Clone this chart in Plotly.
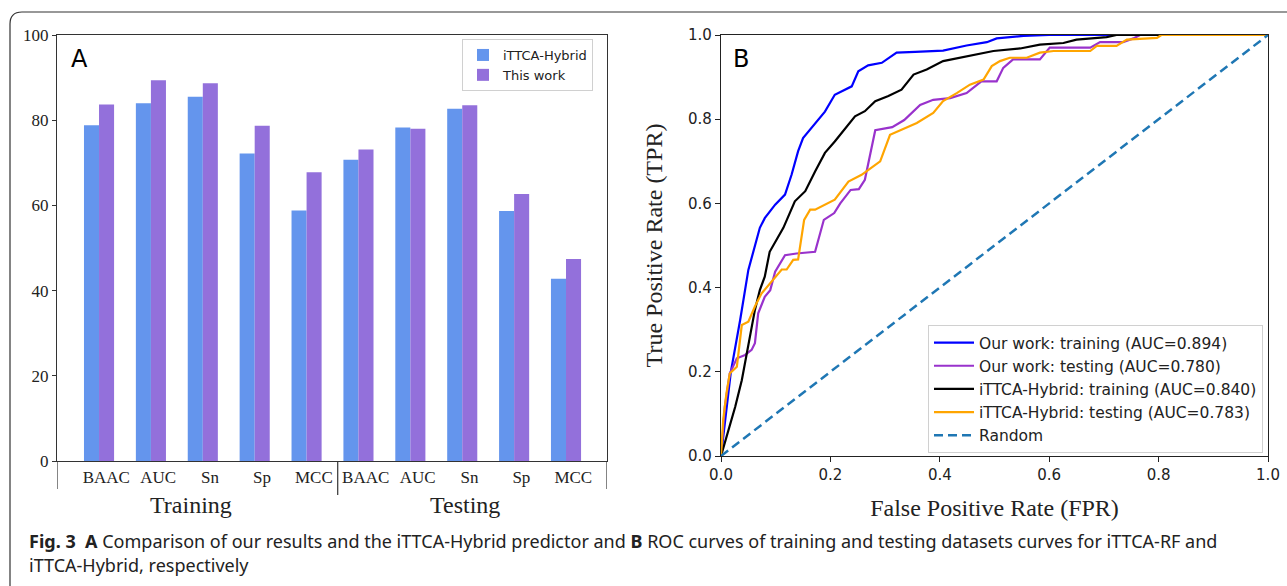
import plotly.graph_objects as go

W, H = 1287, 586

# ---------------- Panel A data ----------------
metrics = ["BAAC", "AUC", "Sn", "Sp", "MCC", "BAAC", "AUC", "Sn", "Sp", "MCC"]
groups = ["Training", "Testing"]
hybrid_vals = [78.8, 84.0, 85.5, 72.2, 58.8, 70.7, 78.3, 82.7, 58.7, 42.8]
thiswork_vals = [83.7, 89.4, 88.7, 78.7, 67.8, 73.1, 78.0, 83.5, 62.7, 47.4]
a_yticks = [0, 20, 40, 60, 80, 100]

# ---------------- Panel B data ----------------
ours_train_fpr = [0.0, 0.018, 0.035, 0.05, 0.071, 0.080, 0.099, 0.117, 0.129, 0.141, 0.150, 0.172,
                  0.190, 0.208, 0.221, 0.239, 0.251, 0.269, 0.294, 0.321, 0.355, 0.406, 0.449,
                  0.486, 0.504, 0.553, 0.60, 1.0]
ours_train_tpr = [0.0, 0.20, 0.323, 0.442, 0.542, 0.565, 0.597, 0.621, 0.668, 0.724, 0.755, 0.791,
                  0.818, 0.858, 0.866, 0.878, 0.914, 0.928, 0.934, 0.958, 0.960, 0.963, 0.975,
                  0.983, 0.992, 0.998, 1.0, 1.0]

ours_test_fpr = [0.0, 0.007, 0.016, 0.029, 0.044, 0.056, 0.062, 0.068, 0.080, 0.090, 0.099, 0.117,
                 0.138, 0.172, 0.188, 0.207, 0.218, 0.237, 0.252, 0.263, 0.282, 0.298, 0.313,
                 0.335, 0.364, 0.388, 0.419, 0.449, 0.476, 0.504, 0.516, 0.534, 0.583, 0.601,
                 0.675, 0.693, 0.735, 0.754, 0.766, 1.0]
ours_test_tpr = [0.0, 0.117, 0.196, 0.232, 0.240, 0.252, 0.268, 0.339, 0.378, 0.394, 0.438, 0.477,
                 0.481, 0.485, 0.561, 0.577, 0.600, 0.632, 0.634, 0.656, 0.774, 0.777, 0.781,
                 0.798, 0.834, 0.846, 0.850, 0.862, 0.890, 0.890, 0.922, 0.942, 0.942, 0.970,
                 0.970, 0.983, 0.983, 0.992, 1.0, 1.0]

hyb_train_fpr = [0.0, 0.026, 0.038, 0.05, 0.062, 0.071, 0.080, 0.089, 0.105, 0.114, 0.135, 0.154,
                 0.172, 0.190, 0.208, 0.227, 0.245, 0.263, 0.282, 0.306, 0.330, 0.352, 0.376,
                 0.406, 0.449, 0.498, 0.547, 0.583, 0.626, 0.650, 0.705, 0.723, 1.0]
hyb_train_tpr = [0.0, 0.117, 0.180, 0.260, 0.347, 0.394, 0.426, 0.485, 0.521, 0.542, 0.605, 0.629,
                 0.676, 0.720, 0.747, 0.779, 0.807, 0.819, 0.843, 0.855, 0.870, 0.906, 0.918,
                 0.938, 0.950, 0.962, 0.968, 0.977, 0.981, 0.989, 0.995, 1.0, 1.0]

hyb_test_fpr = [0.0, 0.004, 0.010, 0.016, 0.029, 0.038, 0.05, 0.062, 0.074, 0.093, 0.111, 0.120,
                0.132, 0.141, 0.152, 0.163, 0.172, 0.208, 0.233, 0.257, 0.282, 0.291, 0.309,
                0.330, 0.358, 0.388, 0.406, 0.431, 0.455, 0.480, 0.495, 0.510, 0.528, 0.559,
                0.583, 0.608, 0.675, 0.687, 0.723, 0.742, 0.797, 0.805, 1.0]
hyb_test_tpr = [0.0, 0.085, 0.149, 0.196, 0.212, 0.311, 0.319, 0.355, 0.386, 0.414, 0.443, 0.443,
                0.466, 0.467, 0.561, 0.585, 0.585, 0.609, 0.652, 0.668, 0.692, 0.700, 0.763,
                0.775, 0.791, 0.815, 0.843, 0.862, 0.882, 0.894, 0.926, 0.938, 0.946, 0.946,
                0.958, 0.962, 0.962, 0.974, 0.974, 0.989, 0.993, 1.0, 1.0]

random_xy = [0.0, 1.0]
b_ticks = [0.0, 0.2, 0.4, 0.6, 0.8, 1.0]

names = ["Our work: training (AUC=0.894)", "Our work: testing (AUC=0.780)",
         "iTTCA-Hybrid: training (AUC=0.840)", "iTTCA-Hybrid: testing (AUC=0.783)", "Random"]

# ---------------- geometry helpers ----------------
def px(x):
    return x / W

def py(y):
    return 1 - y / H

A_X0, A_X1, A_YT, A_YB = 57, 607, 35, 461
B_X0, B_X1, B_YT, B_YB = 721, 1268, 35, 456

SERIF = "Liberation Serif"
SANS = "DejaVu Sans"

fig = go.Figure()

xpos = list(range(len(metrics)))
bw = 0.29
fig.add_trace(go.Bar(x=xpos, y=hybrid_vals, name="iTTCA-Hybrid", marker_color="#6495ED",
                     marker_line_width=0, offset=-bw, width=bw, xaxis="x", yaxis="y",
                     legend="legend"))
fig.add_trace(go.Bar(x=xpos, y=thiswork_vals, name="This work", marker_color="#9370DB",
                     marker_line_width=0, offset=0, width=bw, xaxis="x", yaxis="y",
                     legend="legend"))

line_specs = [
    (ours_train_fpr, ours_train_tpr, "#0000FF"),
    (ours_test_fpr, ours_test_tpr, "#9932CC"),
    (hyb_train_fpr, hyb_train_tpr, "#000000"),
    (hyb_test_fpr, hyb_test_tpr, "#FFA500"),
]
for (fx, ty, col), nm in zip(line_specs, names[:4]):
    fig.add_trace(go.Scatter(x=fx, y=ty, mode="lines", name=nm,
                             line=dict(color=col, width=2.2),
                             xaxis="x2", yaxis="y2", legend="legend2"))
fig.add_trace(go.Scatter(x=random_xy, y=random_xy, mode="lines", name=names[4],
                         line=dict(color="#1f77b4", width=2.5, dash="9px,5px"),
                         xaxis="x2", yaxis="y2", legend="legend2"))

tick_shift = 0.14  # category labels sit slightly right of the bar-pair centre

fig.update_layout(
    width=W, height=H,
    margin=dict(l=0, r=0, t=0, b=0, autoexpand=False),
    paper_bgcolor="white", plot_bgcolor="white",
    barmode="overlay",
    showlegend=True,
    xaxis=dict(domain=[px(A_X0), px(A_X1)], range=[-0.81, 9.79], automargin=False,
               tickmode="array", tickvals=[p + tick_shift for p in xpos], ticktext=metrics,
               ticks="", showgrid=False, zeroline=False,
               showline=True, linecolor="#333333", linewidth=1.2, mirror=True,
               tickfont=dict(family=SERIF, size=17, color="#222222"), anchor="y"),
    yaxis=dict(domain=[py(A_YB), py(A_YT)], range=[0, 100], automargin=False,
               tickmode="array", tickvals=a_yticks,
               ticks="outside", ticklen=4, tickcolor="#333333",
               showgrid=False, zeroline=False,
               showline=True, linecolor="#333333", linewidth=1.2, mirror=True,
               tickfont=dict(family=SERIF, size=17, color="#222222"), anchor="x"),
    xaxis2=dict(domain=[px(B_X0), px(B_X1)], range=[0, 1], automargin=False,
                tickmode="array", tickvals=b_ticks, tickformat=".1f",
                ticks="outside", ticklen=5, tickcolor="#222222",
                showgrid=False, zeroline=False,
                showline=True, linecolor="#222222", linewidth=1.3, mirror=True,
                tickfont=dict(family=SANS, size=15, color="#222222"), anchor="y2",
                title=dict(text="False Positive Rate (FPR)", standoff=16,
                           font=dict(family=SERIF, size=24, color="#222222"))),
    yaxis2=dict(domain=[py(B_YB), py(B_YT)], range=[0, 1], automargin=False,
                tickmode="array", tickvals=b_ticks, tickformat=".1f",
                ticks="outside", ticklen=5, tickcolor="#222222",
                showgrid=False, zeroline=False,
                showline=True, linecolor="#222222", linewidth=1.3, mirror=True,
                tickfont=dict(family=SANS, size=15, color="#222222"), anchor="x2",
                title=dict(text="True Positive Rate (TPR)", standoff=18,
                           font=dict(family=SERIF, size=24, color="#222222"))),
    legend=dict(x=px(462), y=py(39), xanchor="left", yanchor="top",
                bgcolor="rgba(255,255,255,0.9)", bordercolor="#d0d0d0", borderwidth=1,
                font=dict(family=SANS, size=13, color="#222222"),
                tracegroupgap=0, itemwidth=30),
    legend2=dict(x=px(928), y=py(325), xanchor="left", yanchor="top",
                 bgcolor="rgba(255,255,255,0.9)", bordercolor="#d0d0d0", borderwidth=1,
                 font=dict(family=SANS, size=15.5, color="#222222"),
                 tracegroupgap=0, itemwidth=40),
)

def note(x, y, text, font, xref="paper", xanchor="center"):
    fig.add_annotation(x=x, y=y, xref=xref, yref="paper", text=text, showarrow=False,
                       xanchor=xanchor, yanchor="middle", align="left", font=font)

# panel letters
note(px(79), py(59), "A", dict(family=SANS, size=24, color="black"))
note(px(741), py(59), "B", dict(family=SANS, size=24, color="black"))

# group labels (Training / Testing) under each group of five metrics
group_label_x = [1.77, 7.05]
for g, xc in zip(groups, group_label_x):
    note(xc, py(505), g, dict(family=SERIF, size=24, color="#222222"), xref="x")

# group separators below the bar axis
for xs, ybot in [(-0.81, 489), (4.6, 495), (9.79, 489)]:
    fig.add_shape(type="line", xref="x", yref="paper", x0=xs, x1=xs,
                  y0=py(A_YB), y1=py(ybot), line=dict(color="#333333", width=1.2))

# caption
cap_font = dict(family="Noto Sans", size=18, color="#222222")
note(px(27), py(541),
     "<b>Fig. 3</b>  <b>A</b> Comparison of our results and the iTTCA-Hybrid predictor and "
     "<b>B</b> ROC curves of training and testing datasets curves for iTTCA-RF and",
     cap_font, xanchor="left")
note(px(27), py(565), "iTTCA-Hybrid, respectively", cap_font, xanchor="left")

# outer rounded frame (only top-left corner visible)
r = 12
x0, y0 = 10, 12
path = (f"M {px(x0)},{py(H + 5)} L {px(x0)},{py(y0 + r)} "
        f"Q {px(x0)},{py(y0)} {px(x0 + r)},{py(y0)} L {px(W + 5)},{py(y0)}")
fig.add_shape(type="path", xref="paper", yref="paper", path=path,
              line=dict(color="#333333", width=1.2))

fig.write_html("out.html", config={"displayModeBar": False},
               post_script="document.body.style.margin='0px';document.body.style.overflow='hidden';")
